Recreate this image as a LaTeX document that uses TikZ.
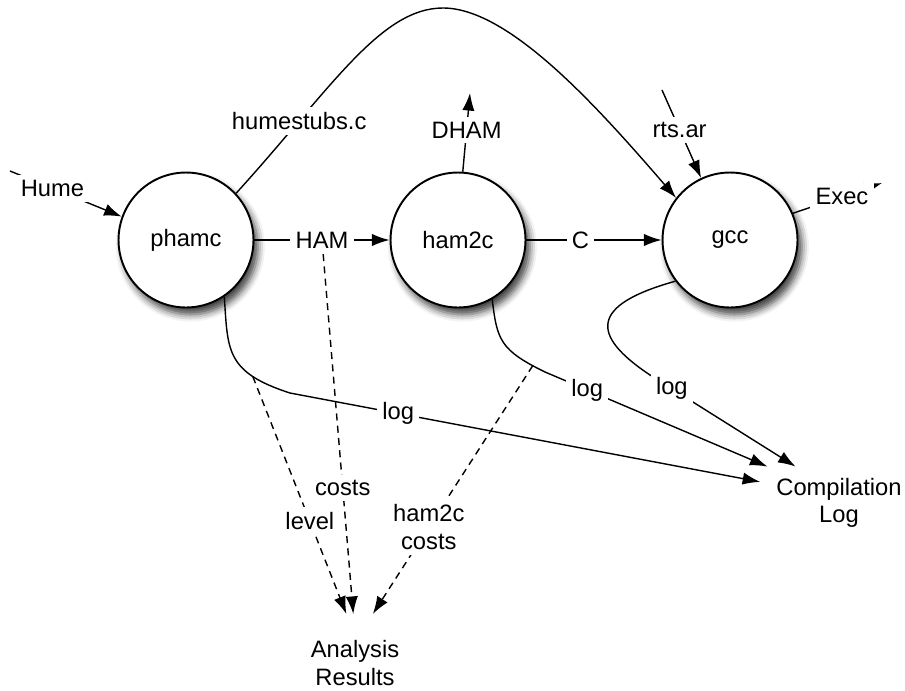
\documentclass[tikz,border=0pt]{standalone}
\usepackage{fontspec}
\setmainfont{Liberation Sans}
\usetikzlibrary{arrows.meta,shadows.blur}

\tikzset{
	tool/.style={circle,draw,line width=1.1pt,fill=white,minimum size=2.7cm,inner sep=0pt,
		blur shadow={shadow xshift=2.5pt,shadow yshift=-4pt,shadow blur radius=4pt,shadow opacity=75}},
	lbl/.style={fill=white,inner sep=3pt},
	flow/.style={line width=0.8pt,-{Latex[length=10pt,width=7pt]}},
	cost/.style={flow,dash pattern=on 4pt off 3pt},
}

\begin{document}
\begin{tikzpicture}[x=0.02cm,y=-0.02cm,font=\fontsize{13.5}{15.5}\selectfont]
		\useasboundingbox (0,0) rectangle (905,690);
%		\draw[help lines,step=50] (0,0) grid (905,690);
		\path (10,171) coordinate (hume);
		\path (470,93) coordinate (dham);
		\path (662,90) coordinate (rts);
		\path (882,183) coordinate (exec);

		\path (186,240) node(phamc) [tool] {phamc};
		\path (458,240) node(ham2c) [tool] {ham2c};
		\path (730,240) node(gcc) [tool] {gcc};
		\path (839,503) node(complog) [align=center,inner xsep=9pt,inner ysep=6.5pt] {Compilation\\Log};
		\path (355,663) node(results) [align=center,inner xsep=4pt,inner ysep=15pt] {Analysis\\Results};

		\draw[flow] (hume) -- node[lbl,pos=0.38] {Hume} (phamc.160);
		\draw[flow] (phamc) -- node[lbl] (ham) {HAM} (ham2c);
		\draw[flow] (ham2c) -- node[lbl,pos=0.4] {C} (gcc);
		\draw[flow] (ham2c.86) -- node[lbl,pos=0.53] {DHAM} (dham);
		\draw[flow] (rts) -- node[lbl,pos=0.45] {rts.ar} (gcc.115);
		\draw[flow] (gcc.23) -- node[lbl,pos=0.55] {Exec} (exec);
		\draw[flow] (phamc.43) .. controls (330,90) and (380,8) .. (443,8)
			node[lbl,pos=0.25] {humestubs.c}
			.. controls (510,8) and (600,110) .. (gcc.142);

		% logs
		\draw[flow] (phamc.-56) .. controls (228,350) and (225,372) .. (290,393)
			coordinate[pos=0.75] (lvl) -- node[lbl,pos=0.23] {log} (complog.165);
		\draw[flow] (ham2c.-60) .. controls (497,340) and (500,350) .. (545,372)
			coordinate[pos=0.9] (hc) -- node[lbl,pos=0.19] {log} (complog.153);
		\draw[flow] (gcc.217) .. controls (590,305) and (590,335) .. (650,375)
			-- node[lbl,pos=0.15] {log} (complog.140);

		% costs
		\draw[cost] (lvl) -- node[lbl,pos=0.61] {level} (results.100);
		\draw[cost] (ham) -- node[lbl,pos=0.65] {costs} (results.92);
		\draw[cost] (hc) -- node[lbl,pos=0.65,align=center] {ham2c\\costs} (results.70);
	\end{tikzpicture}
\end{document}
